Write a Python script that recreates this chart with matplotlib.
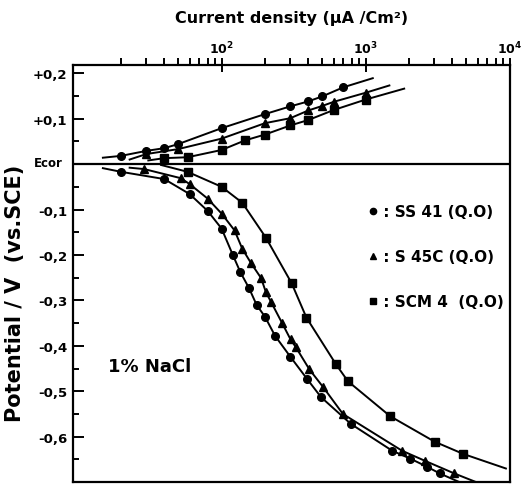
import numpy as np
import matplotlib
matplotlib.use("Agg")
import matplotlib.pyplot as plt
from matplotlib.ticker import FixedLocator, NullFormatter, FuncFormatter

plt.rcParams['font.family'] = ['DejaVu Sans']
plt.rcParams['font.weight'] = 'bold'
plt.rcParams['axes.labelweight'] = 'bold'

# ---- data (current density in uA/cm2, potential in V vs SCE) ----
# anodic branches
ss41_an_i = [20, 30, 40, 50, 100, 200, 300, 400, 500, 700]
ss41_an_e = [0.018, 0.029, 0.035, 0.044, 0.079, 0.110, 0.127, 0.138, 0.149, 0.169]
s45c_an_i = [30, 50, 100, 200, 300, 400, 500, 600, 1000]
s45c_an_e = [0.022, 0.033, 0.056, 0.090, 0.101, 0.118, 0.128, 0.137, 0.157]
scm4_an_i = [40, 58, 100, 145, 200, 300, 400, 600, 1000]
scm4_an_e = [0.013, 0.015, 0.031, 0.052, 0.065, 0.085, 0.097, 0.119, 0.142]

# cathodic branches
ss41_ca_i = [20, 40, 60, 80, 100, 120, 135, 155, 175, 200, 235, 300, 390, 490, 790,
             1530, 2030, 2660, 3270]
ss41_ca_e = [-0.017, -0.033, -0.066, -0.103, -0.142, -0.201, -0.238, -0.273, -0.310,
             -0.336, -0.378, -0.424, -0.472, -0.513, -0.572, -0.631, -0.648, -0.666, -0.681]
s45c_ca_i = [29, 52, 60, 80, 100, 123, 139, 160, 188, 203, 220, 262, 301, 326, 407, 507,
             695, 1790, 2575, 4130]
s45c_ca_e = [-0.011, -0.031, -0.044, -0.076, -0.109, -0.146, -0.186, -0.218, -0.251,
             -0.282, -0.303, -0.349, -0.386, -0.402, -0.452, -0.491, -0.550, -0.631,
             -0.653, -0.681]
scm4_ca_i = [58, 100, 139, 203, 306, 388, 623, 753, 1480, 3010, 4760]
scm4_ca_e = [-0.017, -0.050, -0.085, -0.162, -0.262, -0.338, -0.441, -0.478, -0.555,
             -0.611, -0.638]

# where the drawn curves start / stop
ss41_an_ends = ([15, 1120], [0.014, 0.189])
s45c_an_ends = ([23, 1460], [0.010, 0.173])
scm4_an_ends = ([31, 1850], [0.008, 0.166])
ss41_ca_ends = ([15, 4480], [-0.009, -0.700])
s45c_ca_ends = ([23, 5850], [-0.008, -0.700])
scm4_ca_ends = ([38, 9400], [-0.002, -0.670])

labels = ["SS 41 (Q.O)", "S 45C (Q.O)", "SCM 4  (Q.O)"]
markers = ["o", "^", "s"]

fig = plt.figure(figsize=(5.25, 4.89), dpi=100)
ax = fig.add_axes([0.139, 0.012, 0.832, 0.853])

series = [
    (ss41_an_i, ss41_an_e, ss41_an_ends, ss41_ca_i, ss41_ca_e, ss41_ca_ends),
    (s45c_an_i, s45c_an_e, s45c_an_ends, s45c_ca_i, s45c_ca_e, s45c_ca_ends),
    (scm4_an_i, scm4_an_e, scm4_an_ends, scm4_ca_i, scm4_ca_e, scm4_ca_ends),
]

for (ai, ae, aends, ci, ce, cends), m in zip(series, markers):
    for xi, ye, ends in ((ai, ae, aends), (ci, ce, cends)):
        lx = [ends[0][0]] + list(xi) + [ends[0][1]]
        ly = [ends[1][0]] + list(ye) + [ends[1][1]]
        ax.plot(lx, ly, color='black', lw=1.4, zorder=2)
        ax.plot(xi, ye, ls='none', marker=m, ms=5.5, color='black', zorder=3)

# Ecor line
ax.axhline(0, color='black', lw=1.6)

ax.set_xscale('log')
ax.set_xlim(9.3, 10000)
ax.set_ylim(-0.70, 0.218)

ax.xaxis.tick_top()
ax.xaxis.set_major_locator(FixedLocator([100, 1000, 10000]))
ax.xaxis.set_major_formatter(FuncFormatter(lambda v, p: r"$\mathbf{10^{%d}}$" % round(np.log10(v))))
minor = [k * d for d in (10, 100, 1000) for k in range(2, 10)]
ax.xaxis.set_minor_locator(FixedLocator(minor))
ax.xaxis.set_minor_formatter(NullFormatter())
ax.tick_params(axis='x', which='major', direction='inout', length=10, width=1.4,
               labelsize=9, pad=1)
ax.tick_params(axis='x', which='minor', direction='out', length=5, width=1.4)

yt = [-0.6, -0.5, -0.4, -0.3, -0.2, -0.1, 0.0, 0.1, 0.2]
ax.yaxis.set_major_locator(FixedLocator(yt))
ax.yaxis.set_major_formatter(FuncFormatter(
    lambda v, p: "" if abs(v) < 1e-9 else ("+" if v > 0 else "-") + ("%.1f" % abs(v)).replace(".", ",")))
ax.yaxis.set_minor_locator(FixedLocator([-0.65, -0.55, -0.45, -0.35, -0.25, -0.15, -0.05, 0.05, 0.15]))
ax.tick_params(axis='y', which='major', direction='in', length=8, width=1.4,
               labelsize=9.5, pad=4)
ax.tick_params(axis='y', which='minor', direction='in', length=4, width=1.4)
for s in ax.spines.values():
    s.set_linewidth(1.6)

ax.text(-0.09, 0.004, "Ecor", transform=ax.get_yaxis_transform(), fontsize=8.5,
        ha='left', va='center')

ax.set_xlabel("Current density (\u03bcA /Cm\u00b2)", fontsize=11.5, labelpad=13)
ax.xaxis.set_label_position('top')
ax.set_ylabel("Potential / V  (vs.SCE)", fontsize=15)
ax.yaxis.set_label_coords(-0.11, 0.455)

# legend drawn as in the original
leg_y = [0.650, 0.542, 0.434]
for lab, m, yy in zip(labels, markers, leg_y):
    ax.plot([0.686], [yy], marker=m, ms=4.5, color='black', ls='none',
            transform=ax.transAxes)
    ax.text(0.698, yy, " : " + lab, transform=ax.transAxes, fontsize=11,
            ha='left', va='center')

ax.text(0.08, 0.278, "1% NaCl", transform=ax.transAxes, fontsize=13,
        ha='left', va='center')

fig.savefig("out.png", dpi=100)
